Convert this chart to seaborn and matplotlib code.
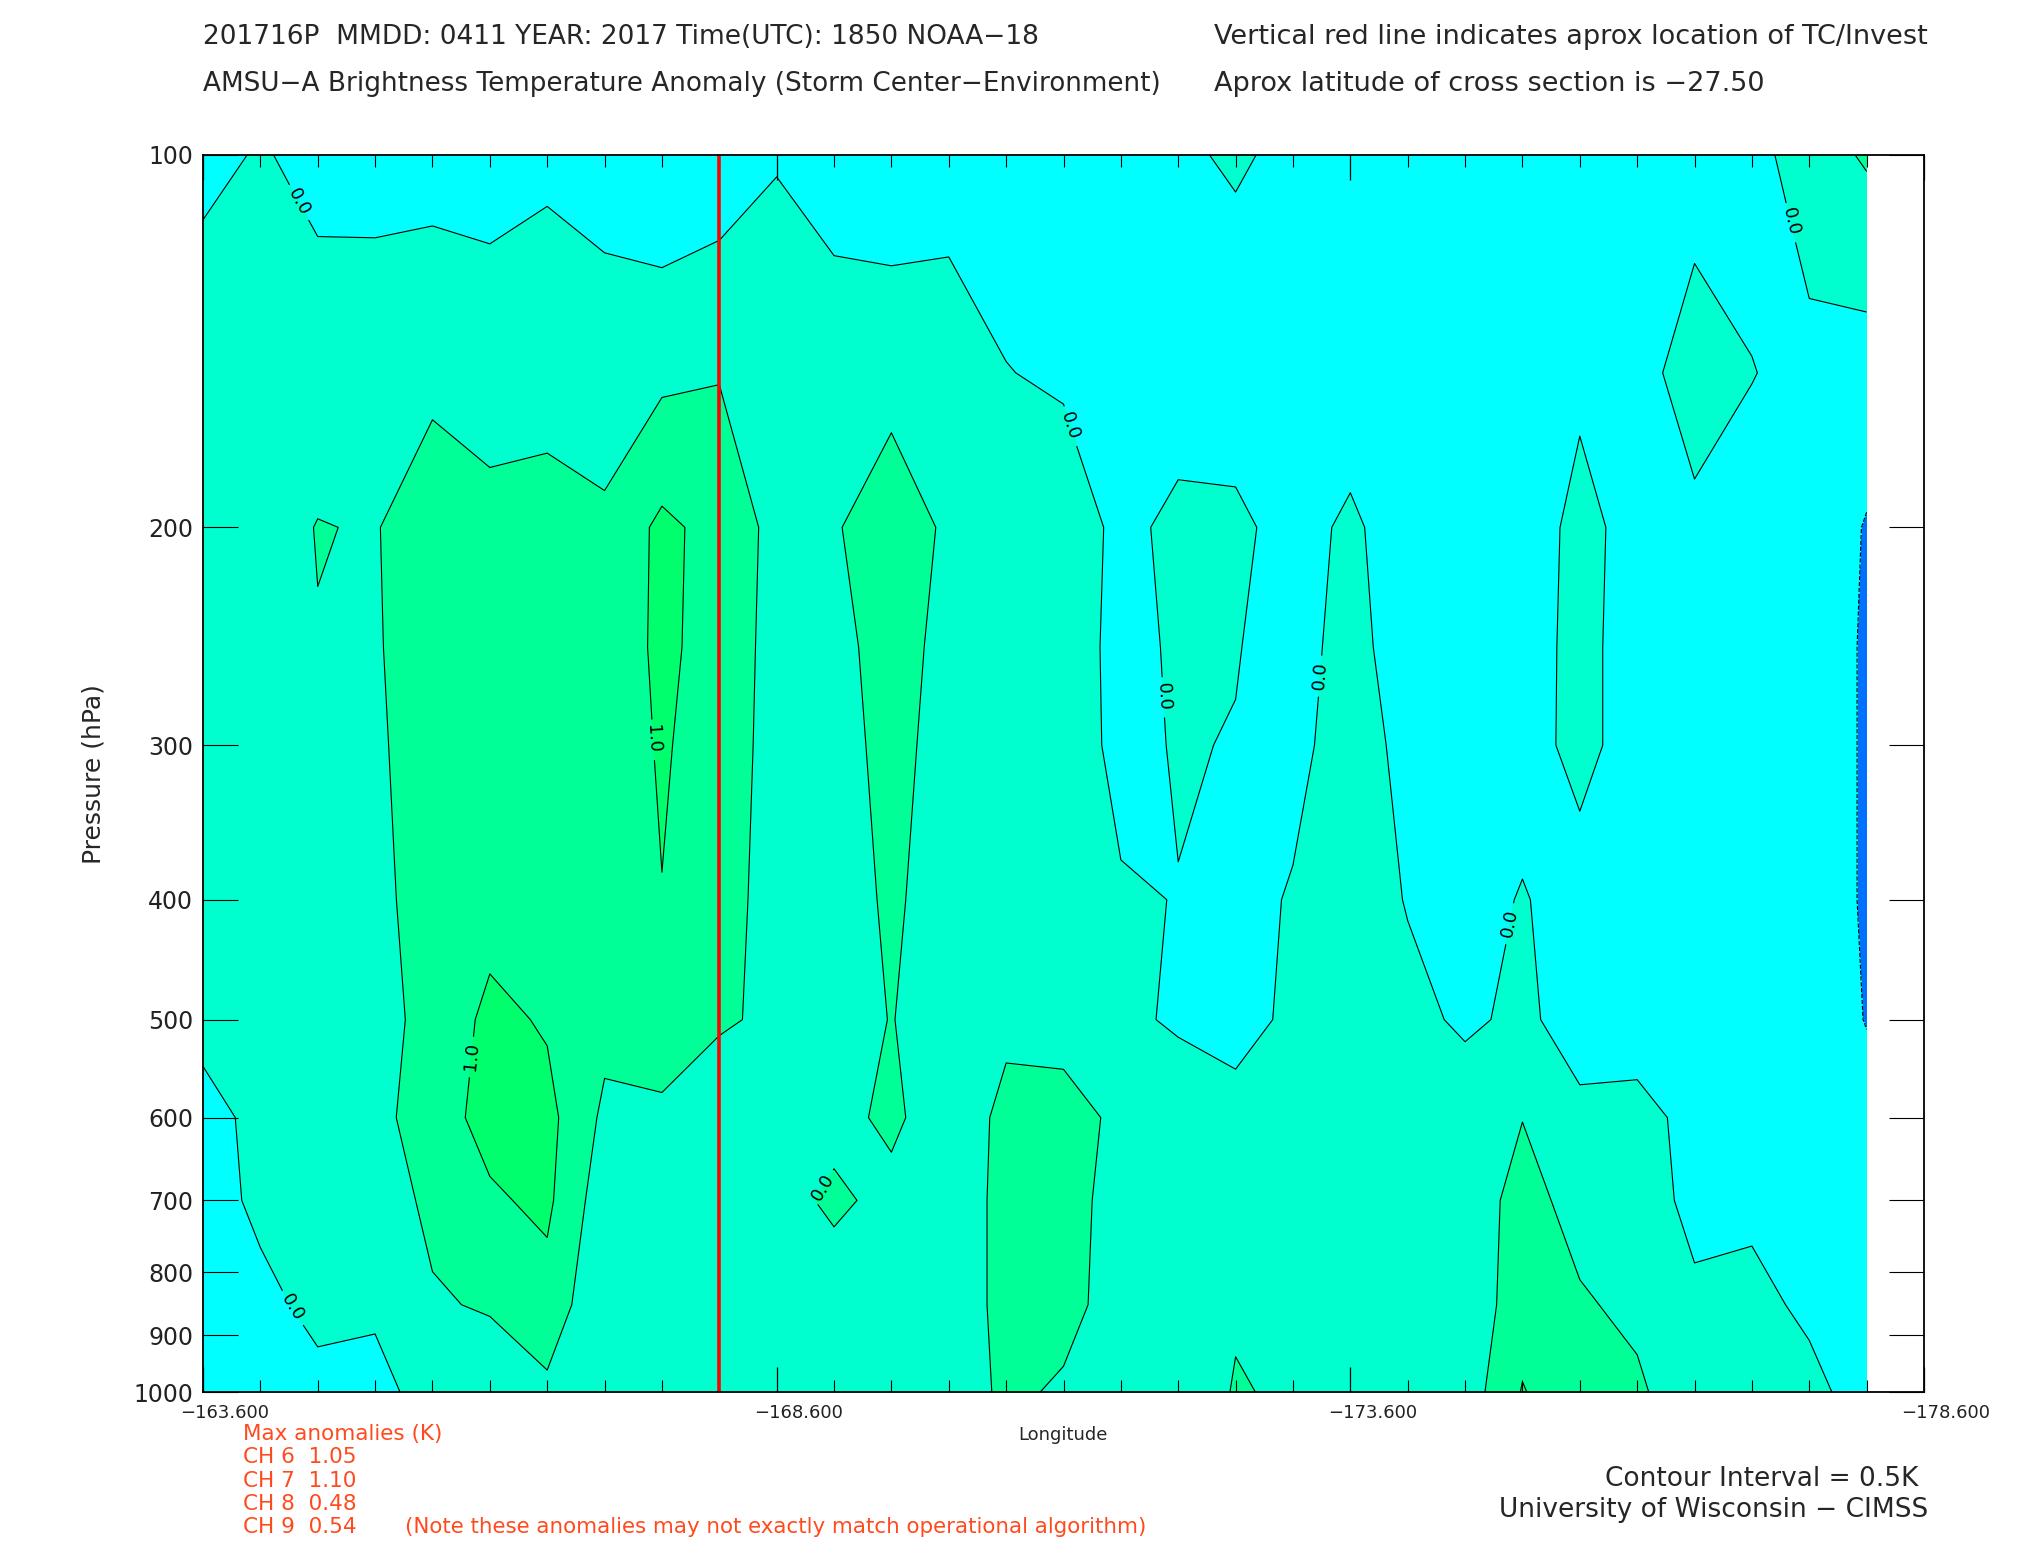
import numpy as np
import pandas as pd
import seaborn as sns
import matplotlib
matplotlib.use("Agg")
import matplotlib.pyplot as plt
from matplotlib.ticker import FixedLocator, NullLocator, FixedFormatter
from matplotlib.transforms import ScaledTranslation

# ---------------- data ----------------
longitudes = [-163.6, -164.1, -164.6, -165.1, -165.6, -166.1, -166.6, -167.1, -167.6, -168.1,
              -168.6, -169.1, -169.6, -170.1, -170.6, -171.1, -171.6, -172.1, -172.6, -173.1,
              -173.6, -174.1, -174.6, -175.1, -175.6, -176.1, -176.6, -177.1, -177.6, -178.1]
pressure_levels = [100, 150, 200, 250, 300, 400, 500, 600, 700, 850, 1000]

anom_100 = [-0.10, 0.03, -0.10, -0.10, -0.144, -0.05, -0.055, -0.133, -0.35, -0.25, -0.03, -0.15, -0.307, -0.15, -0.30,
            -0.30, -0.30, -0.06, 0.05, -0.09, -0.30, -0.30, -0.30, -0.30, -0.30, -0.30, -0.162, -0.20, 0.30, 0.55]
anom_150 = [0.29, 0.30, 0.205, 0.20, 0.366, 0.089, 0.219, 0.20, 0.40, 0.476, 0.33, 0.214, 0.363, 0.209, 0.02,
            -0.10, -0.30, -0.35, -0.30, -0.30, -0.30, -0.30, -0.30, -0.30, -0.12, -0.16, 0.20, 0.02, -0.19, -0.26]
anom_200 = [0.30, 0.25, 0.52, 0.464, 0.855, 0.80, 0.80, 0.608, 1.11, 0.835, 0.347, 0.459, 0.75, 0.427, 0.30,
            0.456, -0.195, 0.18, 0.1225, -0.209, 0.10, -0.30, -0.30, -0.38, 0.20, -0.24, -0.105, -0.30, -0.20, -0.53]
anom_250 = [0.30, 0.30, 0.477, 0.449, 0.80, 0.80, 0.80, 0.70, 1.10, 0.814, 0.316, 0.35, 0.70, 0.35, 0.30,
            0.35, -0.20, 0.09, 0.026, -0.21, 0.20, -0.30, -0.30, -0.30, 0.20, -0.30, -0.30, -0.30, -0.20, -0.56]
anom_300 = [0.30, 0.30, 0.35, 0.423, 0.75, 0.85, 0.85, 0.65, 1.06, 0.736, 0.336, 0.35, 0.62, 0.35, 0.30,
            0.30, -0.15, 0.04, -0.025, -0.15, 0.25, -0.15, -0.30, -0.28, 0.20, -0.30, -0.30, -0.30, -0.20, -0.56]
anom_400 = [0.25, 0.30, 0.30, 0.382, 0.70, 0.826, 0.90, 0.70, 0.985, 0.70, 0.30, 0.35, 0.55, 0.35, 0.30,
            0.30, 0.06, -0.015, -0.20, 0.05, 0.30, -0.03, -0.30, 0.05, -0.31, -0.30, -0.30, -0.30, -0.20, -0.56]
anom_500 = [0.15, 0.30, 0.30, 0.333, 0.65, 1.12, 0.95, 0.637, 0.80, 0.55, 0.426, 0.367, 0.51, 0.35, 0.413,
            0.359, 0.095, -0.06, -0.187, 0.102, 0.30, 0.159, -0.091, 0.111, -0.238, -0.217, -0.30, -0.30, -0.20, -0.52]
anom_600 = [-0.18, 0.14, 0.30, 0.325, 0.80, 1.15, 1.15, 0.40, 0.387, 0.219, 0.30, 0.35, 0.60, 0.20, 0.62,
            0.65, 0.419, 0.30, 0.20, 0.30, 0.30, 0.30, 0.342, 0.49, 0.131, 0.15, -0.135, -0.30, -0.20, -0.30]
anom_700 = [-0.25, 0.12, 0.30, 0.26, 0.60, 0.934, 1.10, 0.20, 0.20, 0.20, 0.30, 0.60, 0.35, 0.20, 0.65,
            0.70, 0.30, 0.30, 0.30, 0.30, 0.30, 0.30, 0.20, 0.69, 0.31, 0.25, -0.136, -0.10, -0.20, -0.30]
anom_850 = [-0.30, -0.16, 0.15, 0.10, 0.449, 0.55, 0.80, 0.10, 0.15, 0.15, 0.30, 0.176, 0.30, 0.20, 0.65,
            0.65, 0.30, 0.30, 0.47, 0.30, 0.30, 0.30, 0.133, 0.80, 0.566, 0.369, 0.10, 0.1415, -0.10, -0.30]
anom_1000 = [-0.30, -0.25, -0.174, -0.215, 0.28, 0.15, 0.391, 0.20, 0.20, 0.20, 0.30, 0.30, 0.30, 0.20, 0.60,
             0.432, 0.30, 0.30, 0.522, 0.458, 0.30, 0.30, 0.219, 1.029, 0.65, 0.606, 0.08, 0.15, 0.157, -0.242]

fill_levels = [-1.0, -0.5, 0.0, 0.5, 1.0, 1.5]
line_levels = [-0.5, 0.0, 0.5, 1.0]
fill_colors = ["#0070ff", "#00ffff", "#00ffcf", "#00ff96", "#00ff6c"]

storm_lon = -168.1
x_major_ticks = [-163.6, -168.6, -173.6, -178.6]
x_major_labels = ["\u2212163.600", "\u2212168.600", "\u2212173.600", "\u2212178.600"]
x_minor_ticks = [-164.1, -164.6, -165.1, -165.6, -166.1, -166.6, -167.1, -167.6, -168.1,
                 -169.1, -169.6, -170.1, -170.6, -171.1, -171.6, -172.1, -172.6, -173.1,
                 -174.1, -174.6, -175.1, -175.6, -176.1, -176.6, -177.1, -177.6, -178.1]
y_ticks = [100, 200, 300, 400, 500, 600, 700, 800, 900, 1000]
y_labels = ["100", "200", "300", "400", "500", "600", "700", "800", "900", "1000"]

label_pos_zero = [(-164.45, 109), (-164.42, 850), (-171.2, 165), (-172.02, 274),
                  (-173.22, 263), (-174.95, 417), (-177.48, 113)]
label_pos_half = [(-169.08, 690)]
label_pos_one = [(-165.9, 535), (-167.59, 296)]

max_anom_lines = ["Max anomalies (K)", "CH 6  1.05", "CH 7  1.10", "CH 8  0.48", "CH 9  0.54"]

# ---------------- style ----------------
sns.set_theme(style="white")
plt.rcParams["font.family"] = ["DejaVu Sans"]
plt.rcParams["axes.linewidth"] = 1.3
plt.rcParams["axes.edgecolor"] = "black"

W, H = 2025, 1550
fig = plt.figure(figsize=(W / 100, H / 100), dpi=100)
fig.patch.set_facecolor("white")
ax = fig.add_axes([203 / W, 1 - 1392 / H, (1924 - 203) / W, (1392 - 155) / H])
ax.set_facecolor("white")
ax.set_axisbelow(False)

Z = np.array([anom_100, anom_150, anom_200, anom_250, anom_300, anom_400,
              anom_500, anom_600, anom_700, anom_850, anom_1000])
LON = np.array(longitudes)
P = np.array(pressure_levels)

ax.contourf(LON, P, Z, levels=fill_levels, colors=fill_colors, zorder=1)
line_sets = {}
for lev in line_levels:
    line_sets[lev] = ax.contour(LON, P, Z, levels=[lev], colors="black", linewidths=0.8, zorder=2)

# red storm-location line via seaborn
line_df = pd.DataFrame({"lon": [storm_lon, storm_lon], "p": [100, 1000]})
sns.lineplot(data=line_df, x="lon", y="p", color="red", linewidth=2.6, ax=ax,
             estimator=None, sort=False, legend=False)
ax.lines[-1].set_zorder(4)

ax.set_yscale("log")
ax.set_ylim(1000, 100)
ax.set_xlim(-163.6, -178.6)

ax.clabel(line_sets[0.0], manual=label_pos_zero, fmt={0.0: "0.0"}, fontsize=13, inline=True, inline_spacing=6)
ax.clabel(line_sets[0.5], manual=label_pos_half, fmt={0.5: "0.0"}, fontsize=13, inline=True, inline_spacing=6)
ax.clabel(line_sets[1.0], manual=label_pos_one, fmt={1.0: "1.0"}, fontsize=13, inline=True, inline_spacing=6)

ax.yaxis.set_major_locator(FixedLocator(y_ticks))
ax.yaxis.set_major_formatter(FixedFormatter(y_labels))
ax.yaxis.set_minor_locator(NullLocator())
ax.xaxis.set_major_locator(FixedLocator(x_major_ticks))
ax.xaxis.set_major_formatter(FixedFormatter(x_major_labels))
ax.xaxis.set_minor_locator(FixedLocator(x_minor_ticks))

ax.tick_params(axis="y", which="major", direction="in", left=True, right=True,
               length=25, width=0.8, labelsize=17, pad=7, colors="black")
ax.tick_params(axis="x", which="major", direction="in", bottom=True, top=True,
               length=18, width=0.9, labelsize=13, pad=9, colors="black")
ax.tick_params(axis="x", which="minor", direction="in", bottom=True, top=True,
               length=8.5, width=0.8, colors="black")
for lab in ax.get_xticklabels():
    lab.set_transform(lab.get_transform() + ScaledTranslation(0.22, 0, fig.dpi_scale_trans))
for lab in ax.get_yticklabels() + ax.get_xticklabels():
    lab.set_color("#222222")

ax.set_xlabel("")
ax.set_ylabel("")
for s in ax.spines.values():
    s.set_visible(True)
    s.set_color("black")
    s.set_zorder(6)

def ftext(x, y, s, **kw):
    fig.text(x / W, 1 - y / H, s, **kw)

tfs = 19
tcol = "#262626"
ftext(203, 37, "201716P  MMDD: 0411 YEAR: 2017 Time(UTC): 1850 NOAA\u221218", fontsize=tfs, va="center", ha="left", color=tcol)
ftext(1214, 37, "Vertical red line indicates aprox location of TC/Invest", fontsize=tfs * 1.03, va="center", ha="left", color=tcol)
ftext(203, 84, "AMSU\u2212A Brightness Temperature Anomaly (Storm Center\u2212Environment)", fontsize=tfs * 0.995, va="center", ha="left", color=tcol)
ftext(1214, 84, "Aprox latitude of cross section is \u221227.50", fontsize=tfs * 1.03, va="center", ha="left", color=tcol)

ftext(94, 774, "Pressure (hPa)", fontsize=18, va="center", ha="center", rotation=90, color=tcol)
ftext(1063, 1435, "Longitude", fontsize=13, va="center", ha="center", color=tcol)

red = "#ff4a1e"
for i, s in enumerate(max_anom_lines):
    ftext(243, 1434 + i * 23.3, s, fontsize=15.5, va="center", ha="left", color=red)
ftext(405, 1527, "(Note these anomalies may not exactly match operational algorithm)", fontsize=15.4,
      va="center", ha="left", color=red)

ftext(1918, 1479, "Contour Interval = 0.5K", fontsize=19, va="center", ha="right", color=tcol)
ftext(1928, 1510, "University of Wisconsin \u2212 CIMSS", fontsize=19, va="center", ha="right", color=tcol)

fig.savefig("out.png", dpi=100, facecolor="white")
